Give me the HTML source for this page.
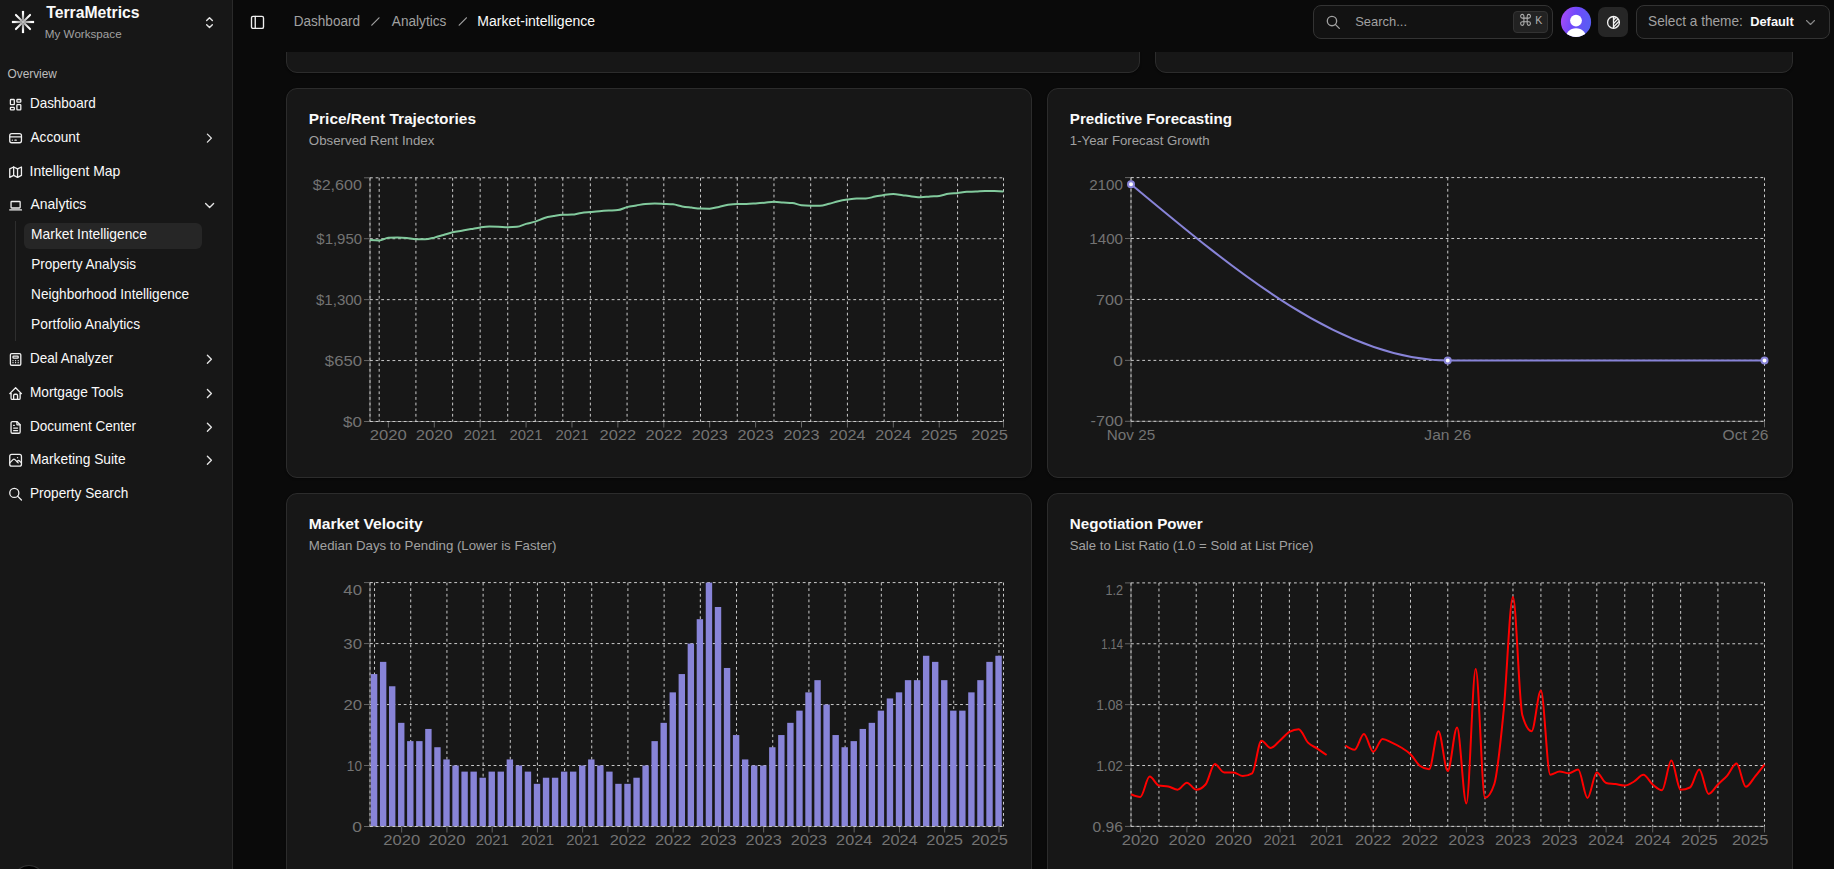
<!DOCTYPE html>
<html><head><meta charset="utf-8"><title>TerraMetrics - Market Intelligence</title>
<style>
html,body{margin:0;padding:0;}
body{width:1834px;height:869px;overflow:hidden;background:#0a0a0a;position:relative;font-family:"Liberation Sans", sans-serif;}
.card{position:absolute;box-sizing:border-box;background:#171717;border:1px solid #2c2c2c;border-radius:11px;box-shadow:0 1px 2px rgba(0,0,0,.35)}
svg.ov{position:absolute;left:0;top:0;}
svg.ov text{font-family:"Liberation Sans", sans-serif;}
</style></head>
<body>
<div style="position:absolute;left:0;top:0;width:232px;height:869px;background:#171717;border-right:1px solid #2a2a2a"></div><div style="position:absolute;left:15px;top:221px;width:1px;height:120px;background:#2e2e2e"></div><div style="position:absolute;left:24px;top:223px;width:178px;height:26px;background:#262626;border-radius:6px"></div><div style="position:absolute;left:14px;top:866.2px;width:30px;height:30px;border-radius:50%;background:#000;box-shadow:0 0 0 1px #333"></div><div class="card" style="left:286px;top:-300px;width:854px;height:373px"></div><div class="card" style="left:1155px;top:-300px;width:638px;height:373px"></div><div class="card" style="left:286px;top:88px;width:746px;height:390px"></div><div class="card" style="left:1047px;top:88px;width:746px;height:390px"></div><div class="card" style="left:286px;top:493px;width:746px;height:420px"></div><div class="card" style="left:1047px;top:493px;width:746px;height:420px"></div><div style="position:absolute;left:233px;top:0;width:1601px;height:52px;background:#0a0a0a"></div><div style="position:absolute;left:1313px;top:5px;width:240px;height:34px;box-sizing:border-box;border:1px solid #333;border-radius:8px;background:#121212"></div><div style="position:absolute;left:1513px;top:11px;width:35px;height:22px;box-sizing:border-box;border:1px solid #333;border-radius:4px;background:#222"></div><div style="position:absolute;left:1598px;top:7px;width:30px;height:30px;border-radius:7px;background:#262626"></div><div style="position:absolute;left:1636px;top:5px;width:194px;height:34px;box-sizing:border-box;border:1px solid #333;border-radius:8px;background:#121212"></div>
<svg class="ov" width="1834" height="869" viewBox="0 0 1834 869">
<linearGradient id="ag0" gradientUnits="userSpaceOnUse" x1="23.0" y1="22.0" x2="34.10" y2="22.00"><stop offset="0" stop-color="#6e6e6e"/><stop offset="0.75" stop-color="#fafafa"/><stop offset="1" stop-color="#ffffff"/></linearGradient>
<line x1="23.0" y1="22.0" x2="34.10" y2="22.00" stroke="url(#ag0)" stroke-width="2.2" stroke-linecap="butt"/>
<linearGradient id="ag1" gradientUnits="userSpaceOnUse" x1="23.0" y1="22.0" x2="30.07" y2="29.07"><stop offset="0" stop-color="#9a9a9a"/><stop offset="0.75" stop-color="#fafafa"/><stop offset="1" stop-color="#ffffff"/></linearGradient>
<line x1="23.0" y1="22.0" x2="30.07" y2="29.07" stroke="url(#ag1)" stroke-width="2.0" stroke-linecap="round"/>
<linearGradient id="ag2" gradientUnits="userSpaceOnUse" x1="23.0" y1="22.0" x2="23.00" y2="33.10"><stop offset="0" stop-color="#6e6e6e"/><stop offset="0.75" stop-color="#fafafa"/><stop offset="1" stop-color="#ffffff"/></linearGradient>
<line x1="23.0" y1="22.0" x2="23.00" y2="33.10" stroke="url(#ag2)" stroke-width="2.2" stroke-linecap="butt"/>
<linearGradient id="ag3" gradientUnits="userSpaceOnUse" x1="23.0" y1="22.0" x2="15.93" y2="29.07"><stop offset="0" stop-color="#9a9a9a"/><stop offset="0.75" stop-color="#fafafa"/><stop offset="1" stop-color="#ffffff"/></linearGradient>
<line x1="23.0" y1="22.0" x2="15.93" y2="29.07" stroke="url(#ag3)" stroke-width="2.0" stroke-linecap="round"/>
<linearGradient id="ag4" gradientUnits="userSpaceOnUse" x1="23.0" y1="22.0" x2="11.90" y2="22.00"><stop offset="0" stop-color="#6e6e6e"/><stop offset="0.75" stop-color="#fafafa"/><stop offset="1" stop-color="#ffffff"/></linearGradient>
<line x1="23.0" y1="22.0" x2="11.90" y2="22.00" stroke="url(#ag4)" stroke-width="2.2" stroke-linecap="butt"/>
<linearGradient id="ag5" gradientUnits="userSpaceOnUse" x1="23.0" y1="22.0" x2="15.93" y2="14.93"><stop offset="0" stop-color="#9a9a9a"/><stop offset="0.75" stop-color="#fafafa"/><stop offset="1" stop-color="#ffffff"/></linearGradient>
<line x1="23.0" y1="22.0" x2="15.93" y2="14.93" stroke="url(#ag5)" stroke-width="2.0" stroke-linecap="round"/>
<linearGradient id="ag6" gradientUnits="userSpaceOnUse" x1="23.0" y1="22.0" x2="23.00" y2="10.90"><stop offset="0" stop-color="#6e6e6e"/><stop offset="0.75" stop-color="#fafafa"/><stop offset="1" stop-color="#ffffff"/></linearGradient>
<line x1="23.0" y1="22.0" x2="23.00" y2="10.90" stroke="url(#ag6)" stroke-width="2.2" stroke-linecap="butt"/>
<linearGradient id="ag7" gradientUnits="userSpaceOnUse" x1="23.0" y1="22.0" x2="30.07" y2="14.93"><stop offset="0" stop-color="#9a9a9a"/><stop offset="0.75" stop-color="#fafafa"/><stop offset="1" stop-color="#ffffff"/></linearGradient>
<line x1="23.0" y1="22.0" x2="30.07" y2="14.93" stroke="url(#ag7)" stroke-width="2.0" stroke-linecap="round"/>
<circle cx="23.0" cy="22.0" r="1.3" fill="#bdbdbd"/>
<text x="46.26" y="18.4" font-size="16.1" fill="#fafafa" font-weight="bold" textLength="93.26" lengthAdjust="spacingAndGlyphs">TerraMetrics</text>
<text x="44.89" y="38.1" font-size="11.5" fill="#a1a1a1" font-weight="normal" textLength="76.74" lengthAdjust="spacingAndGlyphs">My Workspace</text>
<g transform="translate(201.0,14.100000000000001) scale(0.7083333333333334)" fill="none" stroke="#e5e5e5" stroke-width="2" stroke-linecap="round" stroke-linejoin="round"><path d="M8 9l4 -4l4 4"/><path d="M16 15l-4 4l-4 -4"/></g>
<text x="7.57" y="78.4" font-size="12.0" fill="#bdbdbd" font-weight="normal" textLength="49.31" lengthAdjust="spacingAndGlyphs">Overview</text>
<text x="29.93" y="108.2" font-size="14.2" fill="#fafafa" font-weight="normal" textLength="65.85" lengthAdjust="spacingAndGlyphs">Dashboard</text>
<g transform="translate(7.8,96.9) scale(0.65)" fill="none" stroke="#f0f0f0" stroke-width="2" stroke-linecap="round" stroke-linejoin="round"><path d="M5 4h4a1 1 0 0 1 1 1v6a1 1 0 0 1 -1 1h-4a1 1 0 0 1 -1 -1v-6a1 1 0 0 1 1 -1"/><path d="M5 16h4a1 1 0 0 1 1 1v2a1 1 0 0 1 -1 1h-4a1 1 0 0 1 -1 -1v-2a1 1 0 0 1 1 -1"/><path d="M15 12h4a1 1 0 0 1 1 1v6a1 1 0 0 1 -1 1h-4a1 1 0 0 1 -1 -1v-6a1 1 0 0 1 1 -1"/><path d="M15 4h4a1 1 0 0 1 1 1v2a1 1 0 0 1 -1 1h-4a1 1 0 0 1 -1 -1v-2a1 1 0 0 1 1 -1"/></g>
<text x="30.55" y="141.7" font-size="14.2" fill="#fafafa" font-weight="normal" textLength="49.17" lengthAdjust="spacingAndGlyphs">Account</text>
<g transform="translate(7.8,130.39999999999998) scale(0.65)" fill="none" stroke="#f0f0f0" stroke-width="2" stroke-linecap="round" stroke-linejoin="round"><path d="M3 8a3 3 0 0 1 3 -3h12a3 3 0 0 1 3 3v8a3 3 0 0 1 -3 3h-12a3 3 0 0 1 -3 -3z"/><path d="M3 10l18 0"/><path d="M7 15l.01 0"/><path d="M11 15l2 0"/></g>
<g transform="translate(201.4,130.1) scale(0.6666666666666666)" fill="none" stroke="#e5e5e5" stroke-width="2" stroke-linecap="round" stroke-linejoin="round"><path d="M9 6l6 6l-6 6"/></g>
<text x="29.50" y="175.7" font-size="14.2" fill="#fafafa" font-weight="normal" textLength="90.88" lengthAdjust="spacingAndGlyphs">Intelligent Map</text>
<g transform="translate(7.8,164.39999999999998) scale(0.65)" fill="none" stroke="#f0f0f0" stroke-width="2" stroke-linecap="round" stroke-linejoin="round"><path d="M3 7l6 -3l6 3l6 -3v13l-6 3l-6 -3l-6 3v-13"/><path d="M9 4v13"/><path d="M15 7v13"/></g>
<text x="30.55" y="208.9" font-size="14.2" fill="#fafafa" font-weight="normal" textLength="55.78" lengthAdjust="spacingAndGlyphs">Analytics</text>
<g transform="translate(7.8,197.6) scale(0.65)" fill="none" stroke="#f0f0f0" stroke-width="2" stroke-linecap="round" stroke-linejoin="round"><path d="M3 19l18 0"/><path d="M5 7a1 1 0 0 1 1 -1h12a1 1 0 0 1 1 1v8a1 1 0 0 1 -1 1h-12a1 1 0 0 1 -1 -1z"/></g>
<g transform="translate(201.6,197.5) scale(0.6666666666666666)" fill="none" stroke="#e5e5e5" stroke-width="2" stroke-linecap="round" stroke-linejoin="round"><path d="M6 9l6 6l6 -6"/></g>
<text x="29.93" y="362.9" font-size="14.2" fill="#fafafa" font-weight="normal" textLength="83.22" lengthAdjust="spacingAndGlyphs">Deal Analyzer</text>
<g transform="translate(7.8,351.59999999999997) scale(0.65)" fill="none" stroke="#f0f0f0" stroke-width="2" stroke-linecap="round" stroke-linejoin="round"><path d="M4 5a2 2 0 0 1 2 -2h12a2 2 0 0 1 2 2v14a2 2 0 0 1 -2 2h-12a2 2 0 0 1 -2 -2z"/><path d="M8 8a1 1 0 0 1 1 -1h6a1 1 0 0 1 1 1v1a1 1 0 0 1 -1 1h-6a1 1 0 0 1 -1 -1z"/><path d="M8 14l0 .01"/><path d="M12 14l0 .01"/><path d="M16 14l0 .01"/><path d="M8 17l0 .01"/><path d="M12 17l0 .01"/><path d="M16 17l0 .01"/></g>
<g transform="translate(201.4,351.29999999999995) scale(0.6666666666666666)" fill="none" stroke="#e5e5e5" stroke-width="2" stroke-linecap="round" stroke-linejoin="round"><path d="M9 6l6 6l-6 6"/></g>
<text x="29.92" y="397.1" font-size="14.2" fill="#fafafa" font-weight="normal" textLength="93.37" lengthAdjust="spacingAndGlyphs">Mortgage Tools</text>
<g transform="translate(7.8,385.8) scale(0.65)" fill="none" stroke="#f0f0f0" stroke-width="2" stroke-linecap="round" stroke-linejoin="round"><path d="M5 12l-2 0l9 -9l9 9l-2 0"/><path d="M5 12v7a2 2 0 0 0 2 2h10a2 2 0 0 0 2 -2v-7"/><path d="M9 21v-6a2 2 0 0 1 2 -2h2a2 2 0 0 1 2 2v6"/></g>
<g transform="translate(201.4,385.5) scale(0.6666666666666666)" fill="none" stroke="#e5e5e5" stroke-width="2" stroke-linecap="round" stroke-linejoin="round"><path d="M9 6l6 6l-6 6"/></g>
<text x="29.93" y="430.9" font-size="14.2" fill="#fafafa" font-weight="normal" textLength="106.15" lengthAdjust="spacingAndGlyphs">Document Center</text>
<g transform="translate(7.8,419.59999999999997) scale(0.65)" fill="none" stroke="#f0f0f0" stroke-width="2" stroke-linecap="round" stroke-linejoin="round"><path d="M14 3v4a1 1 0 0 0 1 1h4"/><path d="M17 21h-10a2 2 0 0 1 -2 -2v-14a2 2 0 0 1 2 -2h7l5 5v11a2 2 0 0 1 -2 2z"/><path d="M9 9l1 0"/><path d="M9 13l6 0"/><path d="M9 17l6 0"/></g>
<g transform="translate(201.4,419.29999999999995) scale(0.6666666666666666)" fill="none" stroke="#e5e5e5" stroke-width="2" stroke-linecap="round" stroke-linejoin="round"><path d="M9 6l6 6l-6 6"/></g>
<text x="29.91" y="463.8" font-size="14.2" fill="#fafafa" font-weight="normal" textLength="95.64" lengthAdjust="spacingAndGlyphs">Marketing Suite</text>
<g transform="translate(7.8,452.5) scale(0.65)" fill="none" stroke="#f0f0f0" stroke-width="2" stroke-linecap="round" stroke-linejoin="round"><path d="M15 8h.01"/><path d="M3 6a3 3 0 0 1 3 -3h12a3 3 0 0 1 3 3v12a3 3 0 0 1 -3 3h-12a3 3 0 0 1 -3 -3v-12z"/><path d="M3 16l5 -5c.928 -.893 2.072 -.893 3 0l5 5"/><path d="M14 14l1 -1c.928 -.893 2.072 -.893 3 0l3 3"/></g>
<g transform="translate(201.4,452.2) scale(0.6666666666666666)" fill="none" stroke="#e5e5e5" stroke-width="2" stroke-linecap="round" stroke-linejoin="round"><path d="M9 6l6 6l-6 6"/></g>
<text x="29.92" y="497.7" font-size="14.2" fill="#fafafa" font-weight="normal" textLength="98.35" lengthAdjust="spacingAndGlyphs">Property Search</text>
<g transform="translate(7.8,486.4) scale(0.65)" fill="none" stroke="#f0f0f0" stroke-width="2" stroke-linecap="round" stroke-linejoin="round"><path d="M3 10a7 7 0 1 0 14 0a7 7 0 1 0 -14 0"/><path d="M21 21l-6 -6"/></g>
<text x="31.11" y="238.9" font-size="14.2" fill="#fafafa" font-weight="normal" textLength="115.83" lengthAdjust="spacingAndGlyphs">Market Intelligence</text>
<text x="31.13" y="269.1" font-size="14.2" fill="#fafafa" font-weight="normal" textLength="104.93" lengthAdjust="spacingAndGlyphs">Property Analysis</text>
<text x="31.12" y="298.9" font-size="14.2" fill="#fafafa" font-weight="normal" textLength="158.03" lengthAdjust="spacingAndGlyphs">Neighborhood Intelligence</text>
<text x="31.11" y="328.8" font-size="14.2" fill="#fafafa" font-weight="normal" textLength="109.00" lengthAdjust="spacingAndGlyphs">Portfolio Analytics</text>
<g transform="translate(248.5,13.399999999999999) scale(0.75)" fill="none" stroke="#f0f0f0" stroke-width="1.8" stroke-linecap="round" stroke-linejoin="round"><path d="M4 6a2 2 0 0 1 2 -2h12a2 2 0 0 1 2 2v12a2 2 0 0 1 -2 2h-12a2 2 0 0 1 -2 -2z"/><path d="M9 4l0 16"/></g>
<text x="293.71" y="26.1" font-size="13.8" fill="#a1a1a1" font-weight="normal" textLength="66.34" lengthAdjust="spacingAndGlyphs">Dashboard</text>
<text x="391.86" y="26.1" font-size="13.8" fill="#a1a1a1" font-weight="normal" textLength="54.43" lengthAdjust="spacingAndGlyphs">Analytics</text>
<text x="477.38" y="26.1" font-size="14.0" fill="#fafafa" font-weight="normal" textLength="117.67" lengthAdjust="spacingAndGlyphs">Market-intelligence</text>
<line x1="379.0" y1="17.8" x2="371.8" y2="25.2" stroke="#a1a1a1" stroke-width="1.2" stroke-linecap="round"/>
<line x1="466.4" y1="17.8" x2="459.2" y2="25.2" stroke="#a1a1a1" stroke-width="1.2" stroke-linecap="round"/>
<g transform="translate(1325.3,14.399999999999999) scale(0.6666666666666666)" fill="none" stroke="#a1a1a1" stroke-width="2" stroke-linecap="round" stroke-linejoin="round"><path d="M3 10a7 7 0 1 0 14 0a7 7 0 1 0 -14 0"/><path d="M21 21l-6 -6"/></g>
<text x="1355.22" y="26.0" font-size="13.3" fill="#a1a1a1" font-weight="normal" textLength="51.76" lengthAdjust="spacingAndGlyphs">Search...</text>
<g transform="translate(1520.1,13.8) scale(0.545,0.61) translate(-2,-2)" fill="none" stroke="#b0b0b0" stroke-width="1.9" stroke-linecap="round" stroke-linejoin="round"><path d="M15 6v12a3 3 0 1 0 3-3H6a3 3 0 1 0 3 3V6a3 3 0 1 0-3 3h12a3 3 0 1 0-3-3"/></g>
<text x="1535.2" y="24.1" font-size="10.5" fill="#b0b0b0" font-weight="normal" text-anchor="start" >K</text>
<defs><linearGradient id="av" x1="0" y1="0" x2="1" y2="0.3"><stop offset="0" stop-color="#b44cf5"/><stop offset="0.5" stop-color="#7049fb"/><stop offset="1" stop-color="#5a5cf3"/></linearGradient>
<clipPath id="avc"><circle cx="1576" cy="21.9" r="15.1"/></clipPath></defs>
<circle cx="1576" cy="21.9" r="15.1" fill="url(#av)"/>
<g clip-path="url(#avc)"><circle cx="1576" cy="20.6" r="5.9" fill="#fff"/><ellipse cx="1576" cy="39.5" rx="11" ry="11.3" fill="#fff"/></g>
<clipPath id="thc"><circle cx="1613.5" cy="22.4" r="5.6"/></clipPath>
<circle cx="1613.5" cy="22.4" r="5.9" fill="none" stroke="#f5f5f5" stroke-width="1.3"/>
<line x1="1613.5" y1="16.5" x2="1613.5" y2="28.3" stroke="#f5f5f5" stroke-width="1.3"/>
<g clip-path="url(#thc)" stroke="#f5f5f5" stroke-width="1.2"><line x1="1613.5" y1="20" x2="1618" y2="15.5"/><line x1="1613.5" y1="23.5" x2="1620" y2="17"/><line x1="1613.5" y1="27" x2="1620" y2="20.5"/><line x1="1613.5" y1="30.5" x2="1620" y2="24"/></g>
<text x="1648.11" y="26.1" font-size="13.9" fill="#a1a1a1" font-weight="normal" textLength="94.69" lengthAdjust="spacingAndGlyphs">Select a theme:</text>
<text x="1750.25" y="26.1" font-size="13.6" fill="#fafafa" font-weight="bold" textLength="43.42" lengthAdjust="spacingAndGlyphs">Default</text>
<g transform="translate(1802.5,14.5) scale(0.6666666666666666)" fill="none" stroke="#8a8a8a" stroke-width="1.6" stroke-linecap="round" stroke-linejoin="round"><path d="M6 9l6 6l6 -6"/></g>
<text x="308.8" y="123.5" font-size="15" fill="#fafafa" font-weight="bold" text-anchor="start" textLength="167.2" lengthAdjust="spacingAndGlyphs">Price/Rent Trajectories</text>
<text x="308.8" y="144.5" font-size="12.6" fill="#a1a1a1" font-weight="normal" text-anchor="start" textLength="125.6" lengthAdjust="spacingAndGlyphs">Observed Rent Index</text>
<text x="1069.8" y="123.5" font-size="15" fill="#fafafa" font-weight="bold" text-anchor="start" textLength="162.2" lengthAdjust="spacingAndGlyphs">Predictive Forecasting</text>
<text x="1069.8" y="144.5" font-size="12.6" fill="#a1a1a1" font-weight="normal" text-anchor="start" textLength="139.8" lengthAdjust="spacingAndGlyphs">1-Year Forecast Growth</text>
<text x="308.8" y="529.2" font-size="15" fill="#fafafa" font-weight="bold" text-anchor="start" textLength="113.8" lengthAdjust="spacingAndGlyphs">Market Velocity</text>
<text x="308.8" y="550.2" font-size="12.6" fill="#a1a1a1" font-weight="normal" text-anchor="start" textLength="247.6" lengthAdjust="spacingAndGlyphs">Median Days to Pending (Lower is Faster)</text>
<text x="1069.8" y="529.2" font-size="15" fill="#fafafa" font-weight="bold" text-anchor="start" textLength="132.9" lengthAdjust="spacingAndGlyphs">Negotiation Power</text>
<text x="1069.8" y="550.2" font-size="12.6" fill="#a1a1a1" font-weight="normal" text-anchor="start" textLength="243.6" lengthAdjust="spacingAndGlyphs">Sale to List Ratio (1.0 = Sold at List Price)</text>
<g stroke="#666" stroke-width="1" fill="none"><line x1="370.0" y1="177.8" x2="370.0" y2="421.5"/><line x1="370.0" y1="421.5" x2="1003.5" y2="421.5"/><line x1="364.0" y1="177.80" x2="370.0" y2="177.80"/><line x1="364.0" y1="238.73" x2="370.0" y2="238.73"/><line x1="364.0" y1="299.65" x2="370.0" y2="299.65"/><line x1="364.0" y1="360.57" x2="370.0" y2="360.57"/><line x1="364.0" y1="421.50" x2="370.0" y2="421.50"/><line x1="388.36" y1="421.5" x2="388.36" y2="427.5"/><line x1="434.27" y1="421.5" x2="434.27" y2="427.5"/><line x1="480.17" y1="421.5" x2="480.17" y2="427.5"/><line x1="526.08" y1="421.5" x2="526.08" y2="427.5"/><line x1="571.99" y1="421.5" x2="571.99" y2="427.5"/><line x1="617.89" y1="421.5" x2="617.89" y2="427.5"/><line x1="663.80" y1="421.5" x2="663.80" y2="427.5"/><line x1="709.70" y1="421.5" x2="709.70" y2="427.5"/><line x1="755.61" y1="421.5" x2="755.61" y2="427.5"/><line x1="801.51" y1="421.5" x2="801.51" y2="427.5"/><line x1="847.42" y1="421.5" x2="847.42" y2="427.5"/><line x1="893.33" y1="421.5" x2="893.33" y2="427.5"/><line x1="939.23" y1="421.5" x2="939.23" y2="427.5"/><line x1="1003.50" y1="421.5" x2="1003.50" y2="427.5"/></g>
<g stroke="#cccccc" stroke-width="1" stroke-dasharray="2.81 2.81" fill="none"><line x1="370.0" y1="177.80" x2="1003.5" y2="177.80"/><line x1="370.0" y1="238.73" x2="1003.5" y2="238.73"/><line x1="370.0" y1="299.65" x2="1003.5" y2="299.65"/><line x1="370.0" y1="360.57" x2="1003.5" y2="360.57"/><line x1="370.0" y1="421.50" x2="1003.5" y2="421.50"/><line x1="370.00" y1="177.8" x2="370.00" y2="421.5"/><line x1="379.18" y1="177.8" x2="379.18" y2="421.5"/><line x1="415.91" y1="177.8" x2="415.91" y2="421.5"/><line x1="452.63" y1="177.8" x2="452.63" y2="421.5"/><line x1="480.17" y1="177.8" x2="480.17" y2="421.5"/><line x1="507.72" y1="177.8" x2="507.72" y2="421.5"/><line x1="535.26" y1="177.8" x2="535.26" y2="421.5"/><line x1="562.80" y1="177.8" x2="562.80" y2="421.5"/><line x1="590.35" y1="177.8" x2="590.35" y2="421.5"/><line x1="627.07" y1="177.8" x2="627.07" y2="421.5"/><line x1="663.80" y1="177.8" x2="663.80" y2="421.5"/><line x1="700.52" y1="177.8" x2="700.52" y2="421.5"/><line x1="737.25" y1="177.8" x2="737.25" y2="421.5"/><line x1="773.97" y1="177.8" x2="773.97" y2="421.5"/><line x1="810.70" y1="177.8" x2="810.70" y2="421.5"/><line x1="847.42" y1="177.8" x2="847.42" y2="421.5"/><line x1="884.14" y1="177.8" x2="884.14" y2="421.5"/><line x1="920.87" y1="177.8" x2="920.87" y2="421.5"/><line x1="957.59" y1="177.8" x2="957.59" y2="421.5"/><line x1="1003.50" y1="177.8" x2="1003.50" y2="421.5"/></g>
<text x="362.00" y="189.80" font-size="15.3" fill="#737373" font-weight="normal" text-anchor="end" textLength="49.31" lengthAdjust="spacingAndGlyphs">$2,600</text>
<text x="362.00" y="243.88" font-size="15.3" fill="#737373" font-weight="normal" text-anchor="end" textLength="45.64" lengthAdjust="spacingAndGlyphs">$1,950</text>
<text x="362.00" y="304.80" font-size="15.3" fill="#737373" font-weight="normal" text-anchor="end" textLength="46.02" lengthAdjust="spacingAndGlyphs">$1,300</text>
<text x="362.00" y="365.72" font-size="15.3" fill="#737373" font-weight="normal" text-anchor="end" textLength="37.11" lengthAdjust="spacingAndGlyphs">$650</text>
<text x="362.00" y="426.65" font-size="15.3" fill="#737373" font-weight="normal" text-anchor="end" textLength="18.86" lengthAdjust="spacingAndGlyphs">$0</text>
<text x="388.36" y="439.90" font-size="15.3" fill="#737373" font-weight="normal" text-anchor="middle" textLength="36.98" lengthAdjust="spacingAndGlyphs">2020</text>
<text x="434.27" y="439.90" font-size="15.3" fill="#737373" font-weight="normal" text-anchor="middle" textLength="36.98" lengthAdjust="spacingAndGlyphs">2020</text>
<text x="480.17" y="439.90" font-size="15.3" fill="#737373" font-weight="normal" text-anchor="middle" textLength="33.06" lengthAdjust="spacingAndGlyphs">2021</text>
<text x="526.08" y="439.90" font-size="15.3" fill="#737373" font-weight="normal" text-anchor="middle" textLength="33.06" lengthAdjust="spacingAndGlyphs">2021</text>
<text x="571.99" y="439.90" font-size="15.3" fill="#737373" font-weight="normal" text-anchor="middle" textLength="33.06" lengthAdjust="spacingAndGlyphs">2021</text>
<text x="617.89" y="439.90" font-size="15.3" fill="#737373" font-weight="normal" text-anchor="middle" textLength="36.50" lengthAdjust="spacingAndGlyphs">2022</text>
<text x="663.80" y="439.90" font-size="15.3" fill="#737373" font-weight="normal" text-anchor="middle" textLength="36.50" lengthAdjust="spacingAndGlyphs">2022</text>
<text x="709.70" y="439.90" font-size="15.3" fill="#737373" font-weight="normal" text-anchor="middle" textLength="36.11" lengthAdjust="spacingAndGlyphs">2023</text>
<text x="755.61" y="439.90" font-size="15.3" fill="#737373" font-weight="normal" text-anchor="middle" textLength="36.11" lengthAdjust="spacingAndGlyphs">2023</text>
<text x="801.51" y="439.90" font-size="15.3" fill="#737373" font-weight="normal" text-anchor="middle" textLength="36.11" lengthAdjust="spacingAndGlyphs">2023</text>
<text x="847.42" y="439.90" font-size="15.3" fill="#737373" font-weight="normal" text-anchor="middle" textLength="36.06" lengthAdjust="spacingAndGlyphs">2024</text>
<text x="893.33" y="439.90" font-size="15.3" fill="#737373" font-weight="normal" text-anchor="middle" textLength="36.06" lengthAdjust="spacingAndGlyphs">2024</text>
<text x="939.23" y="439.90" font-size="15.3" fill="#737373" font-weight="normal" text-anchor="middle" textLength="36.59" lengthAdjust="spacingAndGlyphs">2025</text>
<text x="1007.80" y="439.90" font-size="15.3" fill="#737373" font-weight="normal" text-anchor="end" textLength="36.59" lengthAdjust="spacingAndGlyphs">2025</text>
<path d="M370.00,240.00C373.06,240.20,376.12,240.40,379.18,240.40C382.24,240.40,385.30,238.07,388.36,237.80C391.42,237.53,394.48,237.40,397.54,237.40C400.60,237.40,403.66,237.58,406.72,237.90C409.79,238.22,412.85,239.30,415.91,239.30C418.97,239.30,422.03,239.30,425.09,239.30C428.15,239.30,431.21,238.32,434.27,237.60C437.33,236.88,440.39,235.88,443.45,235.00C446.51,234.12,449.57,233.02,452.63,232.30C455.69,231.58,458.75,231.23,461.81,230.70C464.87,230.17,467.93,229.65,470.99,229.10C474.05,228.55,477.11,227.83,480.17,227.40C483.23,226.97,486.29,226.50,489.36,226.50C492.42,226.50,495.48,226.58,498.54,226.70C501.60,226.82,504.66,227.20,507.72,227.20C510.78,227.20,513.84,227.07,516.90,226.80C519.96,226.53,523.02,224.77,526.08,223.90C529.14,223.03,532.20,222.58,535.26,221.60C538.32,220.62,541.38,218.92,544.44,218.00C547.50,217.08,550.56,216.63,553.62,216.10C556.68,215.57,559.74,214.93,562.80,214.80C565.86,214.67,568.93,214.73,571.99,214.60C575.05,214.47,578.11,213.33,581.17,212.90C584.23,212.47,587.29,212.28,590.35,212.00C593.41,211.72,596.47,211.43,599.53,211.20C602.59,210.97,605.65,210.78,608.71,210.60C611.77,210.42,614.83,210.43,617.89,210.10C620.95,209.77,624.01,207.87,627.07,207.10C630.13,206.33,633.19,206.03,636.25,205.50C639.31,204.97,642.37,204.10,645.43,203.90C648.50,203.70,651.56,203.60,654.62,203.60C657.68,203.60,660.74,203.78,663.80,203.90C666.86,204.02,669.92,204.03,672.98,204.30C676.04,204.57,679.10,205.85,682.16,206.40C685.22,206.95,688.28,207.23,691.34,207.60C694.40,207.97,697.46,208.53,700.52,208.60C703.58,208.67,706.64,208.70,709.70,208.70C712.76,208.70,715.82,207.55,718.88,206.90C721.94,206.25,725.00,205.30,728.07,204.80C731.13,204.30,734.19,203.90,737.25,203.90C740.31,203.90,743.37,203.90,746.43,203.90C749.49,203.90,752.55,203.60,755.61,203.40C758.67,203.20,761.73,202.97,764.79,202.70C767.85,202.43,770.91,201.80,773.97,201.80C777.03,201.80,780.09,202.30,783.15,202.50C786.21,202.70,789.27,202.67,792.33,203.00C795.39,203.33,798.45,204.87,801.51,205.20C804.57,205.53,807.64,205.63,810.70,205.70C813.76,205.77,816.82,205.80,819.88,205.80C822.94,205.80,826.00,204.55,829.06,203.80C832.12,203.05,835.18,202.00,838.24,201.30C841.30,200.60,844.36,200.08,847.42,199.60C850.48,199.12,853.54,198.40,856.60,198.40C859.66,198.40,862.72,198.40,865.78,198.40C868.84,198.40,871.90,197.18,874.96,196.60C878.02,196.02,881.08,195.33,884.14,194.90C887.21,194.47,890.27,194.00,893.33,194.00C896.39,194.00,899.45,194.80,902.51,195.20C905.57,195.60,908.63,196.05,911.69,196.40C914.75,196.75,917.81,197.30,920.87,197.30C923.93,197.30,926.99,196.63,930.05,196.40C933.11,196.17,936.17,196.23,939.23,195.90C942.29,195.57,945.35,194.30,948.41,193.80C951.47,193.30,954.53,193.23,957.59,192.90C960.65,192.57,963.71,191.93,966.78,191.80C969.84,191.67,972.90,191.72,975.96,191.60C979.02,191.48,982.08,191.10,985.14,191.10C988.20,191.10,991.26,191.10,994.32,191.10C997.38,191.10,1000.44,191.25,1003.50,191.40" fill="none" stroke="#82ca9d" stroke-width="2"/>
<g stroke="#666" stroke-width="1" fill="none"><line x1="1131.0" y1="177.6" x2="1131.0" y2="421.3"/><line x1="1131.0" y1="421.3" x2="1764.5" y2="421.3"/><line x1="1125.0" y1="177.60" x2="1131.0" y2="177.60"/><line x1="1125.0" y1="238.53" x2="1131.0" y2="238.53"/><line x1="1125.0" y1="299.45" x2="1131.0" y2="299.45"/><line x1="1125.0" y1="360.38" x2="1131.0" y2="360.38"/><line x1="1125.0" y1="421.30" x2="1131.0" y2="421.30"/><line x1="1131.00" y1="421.3" x2="1131.00" y2="427.3"/><line x1="1447.75" y1="421.3" x2="1447.75" y2="427.3"/><line x1="1764.50" y1="421.3" x2="1764.50" y2="427.3"/></g>
<g stroke="#cccccc" stroke-width="1" stroke-dasharray="2.81 2.81" fill="none"><line x1="1131.0" y1="177.60" x2="1764.5" y2="177.60"/><line x1="1131.0" y1="238.53" x2="1764.5" y2="238.53"/><line x1="1131.0" y1="299.45" x2="1764.5" y2="299.45"/><line x1="1131.0" y1="360.38" x2="1764.5" y2="360.38"/><line x1="1131.0" y1="421.30" x2="1764.5" y2="421.30"/><line x1="1131.00" y1="177.6" x2="1131.00" y2="421.3"/><line x1="1447.75" y1="177.6" x2="1447.75" y2="421.3"/><line x1="1764.50" y1="177.6" x2="1764.50" y2="421.3"/></g>
<text x="1123.00" y="189.90" font-size="15.3" fill="#737373" font-weight="normal" text-anchor="end" textLength="33.84" lengthAdjust="spacingAndGlyphs">2100</text>
<text x="1123.00" y="243.68" font-size="15.3" fill="#737373" font-weight="normal" text-anchor="end" textLength="33.64" lengthAdjust="spacingAndGlyphs">1400</text>
<text x="1123.00" y="304.60" font-size="15.3" fill="#737373" font-weight="normal" text-anchor="end" textLength="26.86" lengthAdjust="spacingAndGlyphs">700</text>
<text x="1123.00" y="365.52" font-size="15.3" fill="#737373" font-weight="normal" text-anchor="end" textLength="9.69" lengthAdjust="spacingAndGlyphs">0</text>
<text x="1123.00" y="426.45" font-size="15.3" fill="#737373" font-weight="normal" text-anchor="end" textLength="32.39" lengthAdjust="spacingAndGlyphs">-700</text>
<text x="1131.00" y="439.70" font-size="15.3" fill="#737373" font-weight="normal" text-anchor="middle" textLength="48.34" lengthAdjust="spacingAndGlyphs">Nov 25</text>
<text x="1447.75" y="439.70" font-size="15.3" fill="#737373" font-weight="normal" text-anchor="middle" textLength="46.83" lengthAdjust="spacingAndGlyphs">Jan 26</text>
<text x="1768.50" y="439.70" font-size="15.3" fill="#737373" font-weight="normal" text-anchor="end" textLength="45.89" lengthAdjust="spacingAndGlyphs">Oct 26</text>
<path d="M1131.00,184.20C1236.58,272.29,1342.17,360.38,1447.75,360.38C1553.33,360.38,1658.92,360.38,1764.50,360.38" fill="none" stroke="#8884d8" stroke-width="2"/>
<circle cx="1131.00" cy="184.20" r="3" fill="#fff" stroke="#8884d8" stroke-width="2"/>
<circle cx="1447.75" cy="360.38" r="3" fill="#fff" stroke="#8884d8" stroke-width="2"/>
<circle cx="1764.50" cy="360.38" r="3" fill="#fff" stroke="#8884d8" stroke-width="2"/>
<g stroke="#666" stroke-width="1" fill="none"><line x1="370.0" y1="582.6" x2="370.0" y2="826.5"/><line x1="370.0" y1="826.5" x2="1003.5" y2="826.5"/><line x1="364.0" y1="582.60" x2="370.0" y2="582.60"/><line x1="364.0" y1="643.58" x2="370.0" y2="643.58"/><line x1="364.0" y1="704.55" x2="370.0" y2="704.55"/><line x1="364.0" y1="765.52" x2="370.0" y2="765.52"/><line x1="364.0" y1="826.50" x2="370.0" y2="826.50"/><line x1="401.68" y1="826.5" x2="401.68" y2="832.5"/><line x1="446.93" y1="826.5" x2="446.93" y2="832.5"/><line x1="492.18" y1="826.5" x2="492.18" y2="832.5"/><line x1="537.42" y1="826.5" x2="537.42" y2="832.5"/><line x1="582.67" y1="826.5" x2="582.67" y2="832.5"/><line x1="627.92" y1="826.5" x2="627.92" y2="832.5"/><line x1="673.17" y1="826.5" x2="673.17" y2="832.5"/><line x1="718.42" y1="826.5" x2="718.42" y2="832.5"/><line x1="763.67" y1="826.5" x2="763.67" y2="832.5"/><line x1="808.92" y1="826.5" x2="808.92" y2="832.5"/><line x1="854.17" y1="826.5" x2="854.17" y2="832.5"/><line x1="899.43" y1="826.5" x2="899.43" y2="832.5"/><line x1="944.68" y1="826.5" x2="944.68" y2="832.5"/><line x1="998.98" y1="826.5" x2="998.98" y2="832.5"/></g>
<g stroke="#cccccc" stroke-width="1" stroke-dasharray="2.81 2.81" fill="none"><line x1="370.0" y1="582.60" x2="1003.5" y2="582.60"/><line x1="370.0" y1="643.58" x2="1003.5" y2="643.58"/><line x1="370.0" y1="704.55" x2="1003.5" y2="704.55"/><line x1="370.0" y1="765.52" x2="1003.5" y2="765.52"/><line x1="370.0" y1="826.50" x2="1003.5" y2="826.50"/><line x1="370.00" y1="582.6" x2="370.00" y2="826.5"/><line x1="374.52" y1="582.6" x2="374.52" y2="826.5"/><line x1="410.73" y1="582.6" x2="410.73" y2="826.5"/><line x1="446.93" y1="582.6" x2="446.93" y2="826.5"/><line x1="483.12" y1="582.6" x2="483.12" y2="826.5"/><line x1="510.27" y1="582.6" x2="510.27" y2="826.5"/><line x1="537.42" y1="582.6" x2="537.42" y2="826.5"/><line x1="564.58" y1="582.6" x2="564.58" y2="826.5"/><line x1="591.73" y1="582.6" x2="591.73" y2="826.5"/><line x1="627.92" y1="582.6" x2="627.92" y2="826.5"/><line x1="664.12" y1="582.6" x2="664.12" y2="826.5"/><line x1="700.33" y1="582.6" x2="700.33" y2="826.5"/><line x1="736.53" y1="582.6" x2="736.53" y2="826.5"/><line x1="772.73" y1="582.6" x2="772.73" y2="826.5"/><line x1="808.92" y1="582.6" x2="808.92" y2="826.5"/><line x1="845.12" y1="582.6" x2="845.12" y2="826.5"/><line x1="881.33" y1="582.6" x2="881.33" y2="826.5"/><line x1="917.53" y1="582.6" x2="917.53" y2="826.5"/><line x1="953.73" y1="582.6" x2="953.73" y2="826.5"/><line x1="998.98" y1="582.6" x2="998.98" y2="826.5"/><line x1="1003.50" y1="582.6" x2="1003.50" y2="826.5"/></g>
<text x="362.00" y="594.70" font-size="15.3" fill="#737373" font-weight="normal" text-anchor="end" textLength="18.66" lengthAdjust="spacingAndGlyphs">40</text>
<text x="362.00" y="648.73" font-size="15.3" fill="#737373" font-weight="normal" text-anchor="end" textLength="18.62" lengthAdjust="spacingAndGlyphs">30</text>
<text x="362.00" y="709.70" font-size="15.3" fill="#737373" font-weight="normal" text-anchor="end" textLength="18.58" lengthAdjust="spacingAndGlyphs">20</text>
<text x="362.00" y="770.67" font-size="15.3" fill="#737373" font-weight="normal" text-anchor="end" textLength="15.14" lengthAdjust="spacingAndGlyphs">10</text>
<text x="362.00" y="831.65" font-size="15.3" fill="#737373" font-weight="normal" text-anchor="end" textLength="9.69" lengthAdjust="spacingAndGlyphs">0</text>
<text x="401.68" y="844.90" font-size="15.3" fill="#737373" font-weight="normal" text-anchor="middle" textLength="36.98" lengthAdjust="spacingAndGlyphs">2020</text>
<text x="446.93" y="844.90" font-size="15.3" fill="#737373" font-weight="normal" text-anchor="middle" textLength="36.98" lengthAdjust="spacingAndGlyphs">2020</text>
<text x="492.18" y="844.90" font-size="15.3" fill="#737373" font-weight="normal" text-anchor="middle" textLength="33.06" lengthAdjust="spacingAndGlyphs">2021</text>
<text x="537.42" y="844.90" font-size="15.3" fill="#737373" font-weight="normal" text-anchor="middle" textLength="33.06" lengthAdjust="spacingAndGlyphs">2021</text>
<text x="582.67" y="844.90" font-size="15.3" fill="#737373" font-weight="normal" text-anchor="middle" textLength="33.06" lengthAdjust="spacingAndGlyphs">2021</text>
<text x="627.92" y="844.90" font-size="15.3" fill="#737373" font-weight="normal" text-anchor="middle" textLength="36.50" lengthAdjust="spacingAndGlyphs">2022</text>
<text x="673.17" y="844.90" font-size="15.3" fill="#737373" font-weight="normal" text-anchor="middle" textLength="36.50" lengthAdjust="spacingAndGlyphs">2022</text>
<text x="718.42" y="844.90" font-size="15.3" fill="#737373" font-weight="normal" text-anchor="middle" textLength="36.11" lengthAdjust="spacingAndGlyphs">2023</text>
<text x="763.67" y="844.90" font-size="15.3" fill="#737373" font-weight="normal" text-anchor="middle" textLength="36.11" lengthAdjust="spacingAndGlyphs">2023</text>
<text x="808.92" y="844.90" font-size="15.3" fill="#737373" font-weight="normal" text-anchor="middle" textLength="36.11" lengthAdjust="spacingAndGlyphs">2023</text>
<text x="854.17" y="844.90" font-size="15.3" fill="#737373" font-weight="normal" text-anchor="middle" textLength="36.06" lengthAdjust="spacingAndGlyphs">2024</text>
<text x="899.43" y="844.90" font-size="15.3" fill="#737373" font-weight="normal" text-anchor="middle" textLength="36.06" lengthAdjust="spacingAndGlyphs">2024</text>
<text x="944.68" y="844.90" font-size="15.3" fill="#737373" font-weight="normal" text-anchor="middle" textLength="36.59" lengthAdjust="spacingAndGlyphs">2025</text>
<text x="1007.80" y="844.90" font-size="15.3" fill="#737373" font-weight="normal" text-anchor="end" textLength="36.59" lengthAdjust="spacingAndGlyphs">2025</text>
<g><rect x="370.90" y="674.06" width="6.4" height="152.44" fill="#8884d8"/><rect x="379.95" y="661.87" width="6.4" height="164.63" fill="#8884d8"/><rect x="389.00" y="686.26" width="6.4" height="140.24" fill="#8884d8"/><rect x="398.05" y="722.84" width="6.4" height="103.66" fill="#8884d8"/><rect x="407.10" y="741.13" width="6.4" height="85.37" fill="#8884d8"/><rect x="416.15" y="741.13" width="6.4" height="85.37" fill="#8884d8"/><rect x="425.20" y="728.94" width="6.4" height="97.56" fill="#8884d8"/><rect x="434.25" y="747.23" width="6.4" height="79.27" fill="#8884d8"/><rect x="443.30" y="759.43" width="6.4" height="67.07" fill="#8884d8"/><rect x="452.35" y="765.52" width="6.4" height="60.98" fill="#8884d8"/><rect x="461.40" y="771.62" width="6.4" height="54.88" fill="#8884d8"/><rect x="470.45" y="771.62" width="6.4" height="54.88" fill="#8884d8"/><rect x="479.50" y="777.72" width="6.4" height="48.78" fill="#8884d8"/><rect x="488.55" y="771.62" width="6.4" height="54.88" fill="#8884d8"/><rect x="497.61" y="771.62" width="6.4" height="54.88" fill="#8884d8"/><rect x="506.65" y="759.43" width="6.4" height="67.07" fill="#8884d8"/><rect x="515.70" y="765.52" width="6.4" height="60.98" fill="#8884d8"/><rect x="524.75" y="771.62" width="6.4" height="54.88" fill="#8884d8"/><rect x="533.80" y="783.82" width="6.4" height="42.68" fill="#8884d8"/><rect x="542.86" y="777.72" width="6.4" height="48.78" fill="#8884d8"/><rect x="551.90" y="777.72" width="6.4" height="48.78" fill="#8884d8"/><rect x="560.95" y="771.62" width="6.4" height="54.88" fill="#8884d8"/><rect x="570.00" y="771.62" width="6.4" height="54.88" fill="#8884d8"/><rect x="579.05" y="765.52" width="6.4" height="60.98" fill="#8884d8"/><rect x="588.11" y="759.43" width="6.4" height="67.07" fill="#8884d8"/><rect x="597.15" y="765.52" width="6.4" height="60.98" fill="#8884d8"/><rect x="606.20" y="771.62" width="6.4" height="54.88" fill="#8884d8"/><rect x="615.25" y="783.82" width="6.4" height="42.68" fill="#8884d8"/><rect x="624.31" y="783.82" width="6.4" height="42.68" fill="#8884d8"/><rect x="633.36" y="777.72" width="6.4" height="48.78" fill="#8884d8"/><rect x="642.40" y="765.52" width="6.4" height="60.98" fill="#8884d8"/><rect x="651.45" y="741.13" width="6.4" height="85.37" fill="#8884d8"/><rect x="660.50" y="722.84" width="6.4" height="103.66" fill="#8884d8"/><rect x="669.56" y="692.36" width="6.4" height="134.14" fill="#8884d8"/><rect x="678.61" y="674.06" width="6.4" height="152.44" fill="#8884d8"/><rect x="687.65" y="643.58" width="6.4" height="182.92" fill="#8884d8"/><rect x="696.70" y="619.19" width="6.4" height="207.31" fill="#8884d8"/><rect x="705.75" y="582.60" width="6.4" height="243.90" fill="#8884d8"/><rect x="714.81" y="606.99" width="6.4" height="219.51" fill="#8884d8"/><rect x="723.86" y="667.97" width="6.4" height="158.53" fill="#8884d8"/><rect x="732.90" y="735.04" width="6.4" height="91.46" fill="#8884d8"/><rect x="741.95" y="759.43" width="6.4" height="67.07" fill="#8884d8"/><rect x="751.00" y="765.52" width="6.4" height="60.98" fill="#8884d8"/><rect x="760.06" y="765.52" width="6.4" height="60.98" fill="#8884d8"/><rect x="769.11" y="747.23" width="6.4" height="79.27" fill="#8884d8"/><rect x="778.15" y="735.04" width="6.4" height="91.46" fill="#8884d8"/><rect x="787.20" y="722.84" width="6.4" height="103.66" fill="#8884d8"/><rect x="796.25" y="710.65" width="6.4" height="115.85" fill="#8884d8"/><rect x="805.31" y="692.36" width="6.4" height="134.14" fill="#8884d8"/><rect x="814.36" y="680.16" width="6.4" height="146.34" fill="#8884d8"/><rect x="823.40" y="704.55" width="6.4" height="121.95" fill="#8884d8"/><rect x="832.45" y="735.04" width="6.4" height="91.46" fill="#8884d8"/><rect x="841.50" y="747.23" width="6.4" height="79.27" fill="#8884d8"/><rect x="850.56" y="741.13" width="6.4" height="85.37" fill="#8884d8"/><rect x="859.61" y="728.94" width="6.4" height="97.56" fill="#8884d8"/><rect x="868.65" y="722.84" width="6.4" height="103.66" fill="#8884d8"/><rect x="877.71" y="710.65" width="6.4" height="115.85" fill="#8884d8"/><rect x="886.75" y="698.45" width="6.4" height="128.05" fill="#8884d8"/><rect x="895.81" y="692.36" width="6.4" height="134.14" fill="#8884d8"/><rect x="904.86" y="680.16" width="6.4" height="146.34" fill="#8884d8"/><rect x="913.90" y="680.16" width="6.4" height="146.34" fill="#8884d8"/><rect x="922.96" y="655.77" width="6.4" height="170.73" fill="#8884d8"/><rect x="932.00" y="661.87" width="6.4" height="164.63" fill="#8884d8"/><rect x="941.06" y="680.16" width="6.4" height="146.34" fill="#8884d8"/><rect x="950.11" y="710.65" width="6.4" height="115.85" fill="#8884d8"/><rect x="959.15" y="710.65" width="6.4" height="115.85" fill="#8884d8"/><rect x="968.21" y="692.36" width="6.4" height="134.14" fill="#8884d8"/><rect x="977.25" y="680.16" width="6.4" height="146.34" fill="#8884d8"/><rect x="986.31" y="661.87" width="6.4" height="164.63" fill="#8884d8"/><rect x="995.36" y="655.77" width="6.4" height="170.73" fill="#8884d8"/></g>
<line x1="370.0" y1="826.5" x2="1003.5" y2="826.5" stroke="#666"/>
<line x1="370.0" y1="826.5" x2="1003.5" y2="826.5" stroke="#cccccc" stroke-dasharray="2.81 2.81"/>
<g stroke="#666" stroke-width="1" fill="none"><line x1="1131.0" y1="582.9" x2="1131.0" y2="826.4"/><line x1="1131.0" y1="826.4" x2="1764.5" y2="826.4"/><line x1="1125.0" y1="582.90" x2="1131.0" y2="582.90"/><line x1="1125.0" y1="643.77" x2="1131.0" y2="643.77"/><line x1="1125.0" y1="704.65" x2="1131.0" y2="704.65"/><line x1="1125.0" y1="765.52" x2="1131.0" y2="765.52"/><line x1="1125.0" y1="826.40" x2="1131.0" y2="826.40"/><line x1="1140.32" y1="826.4" x2="1140.32" y2="832.4"/><line x1="1186.90" y1="826.4" x2="1186.90" y2="832.4"/><line x1="1233.48" y1="826.4" x2="1233.48" y2="832.4"/><line x1="1280.06" y1="826.4" x2="1280.06" y2="832.4"/><line x1="1326.64" y1="826.4" x2="1326.64" y2="832.4"/><line x1="1373.22" y1="826.4" x2="1373.22" y2="832.4"/><line x1="1419.80" y1="826.4" x2="1419.80" y2="832.4"/><line x1="1466.38" y1="826.4" x2="1466.38" y2="832.4"/><line x1="1512.96" y1="826.4" x2="1512.96" y2="832.4"/><line x1="1559.54" y1="826.4" x2="1559.54" y2="832.4"/><line x1="1606.12" y1="826.4" x2="1606.12" y2="832.4"/><line x1="1652.71" y1="826.4" x2="1652.71" y2="832.4"/><line x1="1699.29" y1="826.4" x2="1699.29" y2="832.4"/><line x1="1764.50" y1="826.4" x2="1764.50" y2="832.4"/></g>
<g stroke="#cccccc" stroke-width="1" stroke-dasharray="2.81 2.81" fill="none"><line x1="1131.0" y1="582.90" x2="1764.5" y2="582.90"/><line x1="1131.0" y1="643.77" x2="1764.5" y2="643.77"/><line x1="1131.0" y1="704.65" x2="1764.5" y2="704.65"/><line x1="1131.0" y1="765.52" x2="1764.5" y2="765.52"/><line x1="1131.0" y1="826.40" x2="1764.5" y2="826.40"/><line x1="1131.00" y1="582.9" x2="1131.00" y2="826.4"/><line x1="1158.95" y1="582.9" x2="1158.95" y2="826.4"/><line x1="1196.21" y1="582.9" x2="1196.21" y2="826.4"/><line x1="1233.48" y1="582.9" x2="1233.48" y2="826.4"/><line x1="1261.43" y1="582.9" x2="1261.43" y2="826.4"/><line x1="1289.38" y1="582.9" x2="1289.38" y2="826.4"/><line x1="1317.32" y1="582.9" x2="1317.32" y2="826.4"/><line x1="1345.27" y1="582.9" x2="1345.27" y2="826.4"/><line x1="1373.22" y1="582.9" x2="1373.22" y2="826.4"/><line x1="1410.49" y1="582.9" x2="1410.49" y2="826.4"/><line x1="1447.75" y1="582.9" x2="1447.75" y2="826.4"/><line x1="1485.01" y1="582.9" x2="1485.01" y2="826.4"/><line x1="1512.96" y1="582.9" x2="1512.96" y2="826.4"/><line x1="1540.91" y1="582.9" x2="1540.91" y2="826.4"/><line x1="1568.86" y1="582.9" x2="1568.86" y2="826.4"/><line x1="1596.81" y1="582.9" x2="1596.81" y2="826.4"/><line x1="1624.76" y1="582.9" x2="1624.76" y2="826.4"/><line x1="1652.71" y1="582.9" x2="1652.71" y2="826.4"/><line x1="1680.65" y1="582.9" x2="1680.65" y2="826.4"/><line x1="1717.92" y1="582.9" x2="1717.92" y2="826.4"/><line x1="1764.50" y1="582.9" x2="1764.50" y2="826.4"/></g>
<text x="1123.00" y="594.70" font-size="15.3" fill="#737373" font-weight="normal" text-anchor="end" textLength="17.58" lengthAdjust="spacingAndGlyphs">1.2</text>
<text x="1123.00" y="648.92" font-size="15.3" fill="#737373" font-weight="normal" text-anchor="end" textLength="21.67" lengthAdjust="spacingAndGlyphs">1.14</text>
<text x="1123.00" y="709.80" font-size="15.3" fill="#737373" font-weight="normal" text-anchor="end" textLength="26.75" lengthAdjust="spacingAndGlyphs">1.08</text>
<text x="1123.00" y="770.67" font-size="15.3" fill="#737373" font-weight="normal" text-anchor="end" textLength="26.81" lengthAdjust="spacingAndGlyphs">1.02</text>
<text x="1123.00" y="831.55" font-size="15.3" fill="#737373" font-weight="normal" text-anchor="end" textLength="30.53" lengthAdjust="spacingAndGlyphs">0.96</text>
<text x="1140.32" y="844.80" font-size="15.3" fill="#737373" font-weight="normal" text-anchor="middle" textLength="36.98" lengthAdjust="spacingAndGlyphs">2020</text>
<text x="1186.90" y="844.80" font-size="15.3" fill="#737373" font-weight="normal" text-anchor="middle" textLength="36.98" lengthAdjust="spacingAndGlyphs">2020</text>
<text x="1233.48" y="844.80" font-size="15.3" fill="#737373" font-weight="normal" text-anchor="middle" textLength="36.98" lengthAdjust="spacingAndGlyphs">2020</text>
<text x="1280.06" y="844.80" font-size="15.3" fill="#737373" font-weight="normal" text-anchor="middle" textLength="33.06" lengthAdjust="spacingAndGlyphs">2021</text>
<text x="1326.64" y="844.80" font-size="15.3" fill="#737373" font-weight="normal" text-anchor="middle" textLength="33.06" lengthAdjust="spacingAndGlyphs">2021</text>
<text x="1373.22" y="844.80" font-size="15.3" fill="#737373" font-weight="normal" text-anchor="middle" textLength="36.50" lengthAdjust="spacingAndGlyphs">2022</text>
<text x="1419.80" y="844.80" font-size="15.3" fill="#737373" font-weight="normal" text-anchor="middle" textLength="36.50" lengthAdjust="spacingAndGlyphs">2022</text>
<text x="1466.38" y="844.80" font-size="15.3" fill="#737373" font-weight="normal" text-anchor="middle" textLength="36.11" lengthAdjust="spacingAndGlyphs">2023</text>
<text x="1512.96" y="844.80" font-size="15.3" fill="#737373" font-weight="normal" text-anchor="middle" textLength="36.11" lengthAdjust="spacingAndGlyphs">2023</text>
<text x="1559.54" y="844.80" font-size="15.3" fill="#737373" font-weight="normal" text-anchor="middle" textLength="36.11" lengthAdjust="spacingAndGlyphs">2023</text>
<text x="1606.12" y="844.80" font-size="15.3" fill="#737373" font-weight="normal" text-anchor="middle" textLength="36.06" lengthAdjust="spacingAndGlyphs">2024</text>
<text x="1652.71" y="844.80" font-size="15.3" fill="#737373" font-weight="normal" text-anchor="middle" textLength="36.06" lengthAdjust="spacingAndGlyphs">2024</text>
<text x="1699.29" y="844.80" font-size="15.3" fill="#737373" font-weight="normal" text-anchor="middle" textLength="36.59" lengthAdjust="spacingAndGlyphs">2025</text>
<text x="1768.50" y="844.80" font-size="15.3" fill="#737373" font-weight="normal" text-anchor="end" textLength="36.59" lengthAdjust="spacingAndGlyphs">2025</text>
<path d="M1131.00,794.20C1134.11,795.55,1137.21,796.90,1140.32,796.90C1143.42,796.90,1146.53,776.60,1149.63,776.60C1152.74,776.60,1155.84,784.90,1158.95,785.50C1162.05,786.10,1165.16,785.80,1168.26,786.40C1171.37,787.00,1174.48,789.70,1177.58,789.70C1180.69,789.70,1183.79,782.70,1186.90,782.70C1190.00,782.70,1193.11,789.70,1196.21,789.70C1199.32,789.70,1202.42,787.97,1205.53,784.50C1208.63,781.03,1211.74,764.00,1214.85,764.00C1217.95,764.00,1221.06,772.50,1224.16,772.50C1227.27,772.50,1230.37,772.50,1233.48,772.50C1236.58,772.50,1239.69,776.00,1242.79,776.00C1245.90,776.00,1249.00,775.10,1252.11,773.30C1255.22,771.50,1258.32,740.70,1261.43,740.70C1264.53,740.70,1267.64,747.90,1270.74,747.90C1273.85,747.90,1276.95,743.07,1280.06,740.40C1283.16,737.73,1286.27,733.70,1289.38,731.90C1292.48,730.10,1295.59,729.20,1298.69,729.20C1301.80,729.20,1304.90,739.37,1308.01,742.60C1311.11,745.83,1314.22,746.53,1317.32,748.60C1320.43,750.67,1323.53,752.83,1326.64,755.00M1345.27,745.50C1348.38,747.65,1351.48,749.80,1354.59,749.80C1357.69,749.80,1360.80,734.00,1363.90,734.00C1367.01,734.00,1370.12,751.80,1373.22,751.80C1376.33,751.80,1379.43,738.90,1382.54,738.90C1385.64,738.90,1388.75,741.17,1391.85,742.60C1394.96,744.03,1398.06,745.57,1401.17,747.50C1404.27,749.43,1407.38,751.17,1410.49,754.20C1413.59,757.23,1416.70,763.37,1419.80,765.70C1422.91,768.03,1426.01,769.20,1429.12,769.20C1432.22,769.20,1435.33,731.20,1438.43,731.20C1441.54,731.20,1444.64,771.00,1447.75,771.00C1450.86,771.00,1453.96,727.50,1457.07,727.50C1460.17,727.50,1463.28,803.50,1466.38,803.50C1469.49,803.50,1472.59,669.00,1475.70,669.00C1478.80,669.00,1481.91,797.80,1485.01,797.80C1488.12,797.80,1491.23,793.20,1494.33,784.00C1497.44,774.80,1500.54,742.17,1503.65,711.00C1506.75,679.83,1509.86,597.00,1512.96,597.00C1516.07,597.00,1519.17,704.20,1522.28,715.00C1525.38,725.80,1528.49,731.20,1531.60,731.20C1534.70,731.20,1537.81,690.60,1540.91,690.60C1544.02,690.60,1547.12,774.70,1550.23,774.70C1553.33,774.70,1556.44,771.50,1559.54,771.50C1562.65,771.50,1565.75,773.30,1568.86,773.30C1571.97,773.30,1575.07,769.60,1578.18,769.60C1581.28,769.60,1584.39,798.00,1587.49,798.00C1590.60,798.00,1593.70,772.60,1596.81,772.60C1599.91,772.60,1603.02,782.27,1606.12,783.00C1609.23,783.73,1612.34,783.67,1615.44,784.10C1618.55,784.53,1621.65,785.60,1624.76,785.60C1627.86,785.60,1630.97,783.30,1634.07,781.50C1637.18,779.70,1640.28,774.80,1643.39,774.80C1646.50,774.80,1649.60,781.93,1652.71,784.50C1655.81,787.07,1658.92,790.20,1662.02,790.20C1665.13,790.20,1668.23,760.60,1671.34,760.60C1674.44,760.60,1677.55,789.80,1680.65,789.80C1683.76,789.80,1686.87,789.03,1689.97,787.50C1693.08,785.97,1696.18,769.60,1699.29,769.60C1702.39,769.60,1705.50,794.00,1708.60,794.00C1711.71,794.00,1714.81,787.57,1717.92,784.50C1721.02,781.43,1724.13,779.08,1727.24,775.60C1730.34,772.12,1733.45,763.60,1736.55,763.60C1739.66,763.60,1742.76,786.80,1745.87,786.80C1748.97,786.80,1752.08,780.00,1755.18,776.30C1758.29,772.60,1761.39,768.60,1764.50,764.60" fill="none" stroke="#ff0000" stroke-width="2"/>
</svg>
</body></html>
